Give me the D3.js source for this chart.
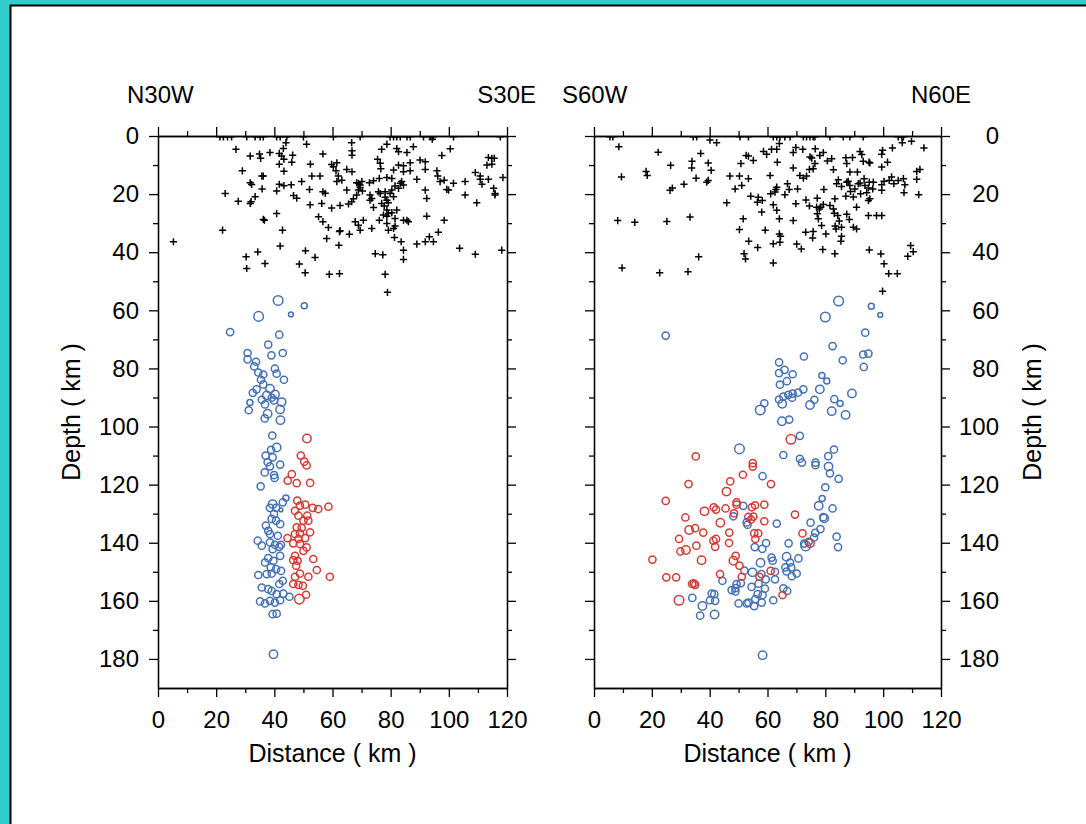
<!DOCTYPE html>
<html><head><meta charset="utf-8">
<script src="https://cdn.jsdelivr.net/npm/d3@7"></script>
<style>html,body{margin:0;padding:0;background:#33cccc;}svg{display:block;}</style>
</head><body>
<svg id="chart" width="1086" height="824"></svg>
<script>
// ---------- data (distance km, depth km [, magnitude]) ----------
const xTickValues = [0, 20, 40, 60, 80, 100, 120];
const yTickValues = [0, 20, 40, 60, 80, 100, 120, 140, 160, 180];
const panelTitlesLeft = ["N30W", "S30E"];
const panelTitlesRight = ["S60W", "N60E"];
const xAxisTitle = "Distance ( km )";
const yAxisTitle = "Depth ( km )";

const leftShallowTop = [21.3,22.5,23.9,25.3,30.5,33.4,35.1,36.2,40.8,42.0,44.3,50.0,60.3,69.5,79.8,81.0,82.1,83.3,85.6,86.7,91.3,93.6,94.7,101.6,117.7];
const leftCrosses = [
[26.8,4.6],[31.7,6.9],[34.9,6.2],[35.3,7.7],[38.5,5.7],[41.7,6.0],[42.5,6.9],[43.3,8.0],[43.1,4.3],[44.0,2.3],[46.3,6.6],[46.0,9.0],[51.1,2.8],[56.7,6.2],[66.6,2.3],[66.7,5.1],[66.7,6.6],[78.7,2.8],[76.9,4.6],[82.1,4.3],[82.7,5.4],[85.6,5.7],[87.8,3.7],[94.3,1.1],[97.6,6.7],[100.5,4.4],[113.6,7.4],[114.8,7.7],[113.1,10.0],[114.8,9.7],[115.6,7.7],
[29.0,12.0],[31.7,16.1],[32.2,16.7],[35.7,13.8],[36.2,13.8],[35.8,18.2],[41.7,9.7],[41.7,16.6],[43.3,12.1],[45.8,16.8],[49.4,15.7],[52.4,9.7],[52.9,13.8],[55.7,13.8],[59.7,9.8],[60.3,10.6],[61.5,9.2],[61.2,12.0],[62.0,13.8],[63.2,15.2],[61.5,15.7],[64.9,11.5],[66.7,12.3],[68.3,16.1],[68.9,16.3],[69.5,16.9],[70.1,15.7],[75.5,8.0],[76.4,9.4],[76.6,11.3],[72.7,16.1],[74.1,15.4],[76.1,14.6],[78.7,14.3],[80.4,14.6],[81.0,11.7],[82.7,10.0],[84.4,10.2],[84.4,12.3],[86.7,9.2],[86.7,12.0],[89.0,14.9],[90.1,8.3],[91.9,8.9],[91.9,11.5],[95.9,12.0],[96.2,13.8],[97.0,15.7],[98.4,15.2],[99.3,18.4],[99.9,18.6],[101.6,16.3],[105.6,15.7],[109.1,12.6],[110.8,13.8],[110.8,14.9],[111.4,16.6],[113.6,14.9],[118.6,14.3],[115.4,18.0],[115.9,19.8],
[23.1,19.8],[27.6,22.5],[31.7,23.2],[32.0,22.6],[33.4,20.9],[40.8,18.9],[43.3,17.1],[46.6,20.5],[47.7,21.4],[52.1,18.4],[52.3,23.7],[56.7,19.2],[57.5,19.7],[56.3,23.2],[59.7,24.8],[62.6,23.9],[64.9,18.6],[65.5,23.4],[66.6,22.6],[67.2,21.6],[68.3,20.3],[68.9,18.6],[69.5,17.7],[70.3,18.9],[72.9,20.3],[73.5,21.5],[72.9,22.1],[74.1,24.6],[75.8,19.2],[76.4,19.8],[76.9,23.2],[77.8,24.1],[78.1,21.1],[78.7,22.1],[78.7,25.5],[79.2,23.0],[79.8,19.8],[80.4,18.6],[81.0,20.9],[81.5,17.2],[82.7,18.0],[83.3,16.3],[83.8,15.7],[84.4,16.9],[79.2,26.7],[77.5,27.2],[78.7,27.6],[80.4,26.4],[82.1,25.5],[81.5,28.4],[78.1,19.2],[91.9,18.6],[92.4,21.5],[105.6,20.3],[109.6,23.0],[115.9,20.3],
[22.2,32.4],[36.2,28.7],[36.6,29.0],[40.8,26.7],[42.8,32.4],[42.0,37.9],[55.2,27.8],[56.7,29.5],[58.6,31.5],[58.0,35.3],[62.4,32.9],[62.6,32.6],[62.2,37.6],[65.8,33.8],[67.8,29.5],[68.9,30.7],[69.5,32.4],[70.6,29.0],[73.5,31.8],[76.1,29.0],[78.7,30.1],[79.2,32.4],[81.0,31.8],[81.5,31.0],[81.3,34.9],[83.6,36.4],[84.4,29.0],[85.6,29.0],[86.1,29.5],[89.0,37.2],[91.9,36.4],[93.3,34.7],[94.7,36.4],[96.4,33.1],[98.4,29.0],[92.4,27.6],[103.7,38.6],[118.2,39.3],[109.1,40.7],[84.4,39.3],[84.4,42.5],[74.7,40.5],[77.3,40.9],
[5.3,36.4],[30.3,41.6],[30.5,45.6],[34.3,39.9],[36.8,43.9],[48.6,44.1],[50.7,39.5],[50.6,47.1],[54.0,41.8],[58.9,47.6],[62.4,47.4],[78.1,47.6],[78.9,53.8]
];
const leftBlue = [
[41.3,56.6,4],[50.3,58.4,2.5],[34.6,62.1,4],[45.7,61.4,2],[24.8,67.5,3],[41.7,68.4,3],[37.9,71.8,3],[42.9,74.7,3],[30.8,74.7,3],[30.8,76.9,3],[39.0,75.5,3],[33.7,77.7,3],[33.1,79.3,3],[40.2,80.1,3],[40.8,81.8,3],[34.5,81.4,3],[36.2,82.1,3],[35.4,83.9,3],[43.3,83.9,3],[36.2,85.5,3],[33.9,87.2,3],[32.6,88.4,3],[38.5,87.0,3.5],[40.2,89.0,3.5],[37.4,89.3,3.5],[39.1,90.1,3],[35.7,90.8,3],[39.9,91.0,3],[42.5,91.6,3.5],[31.6,91.7,2.5],[36.8,92.4,3],[42.0,94.1,3.5],[31.2,94.4,3],[37.7,95.6,3.5],[36.7,97.2,3],[42.1,97.8,3.5],[39.3,103.1,3],[40.8,107.2,3.5],[38.9,108.0,3],[37.0,110.0,3],[39.4,110.6,3],[42.0,113.1,3],[37.7,112.3,3],[38.5,113.7,3],[36.7,115.8,3],[39.9,116.7,3],[40.1,117.7,3],[35.3,120.6,3],
[44.0,124.6,2.5],[42.9,126.1,3],[39.4,126.7,3.5],[40.6,128.0,3],[38.5,128.0,3],[42.3,128.7,1.5],[39.9,130.1,3],[39.1,131.8,3],[40.6,132.4,3],[42.0,133.6,3],[37.1,134.1,3],[37.9,135.9,3],[38.5,137.0,3],[41.2,137.6,3],[34.3,139.3,3],[35.7,141.0,3],[38.5,139.9,3],[40.2,140.7,3],[42.3,140.7,3],[41.7,141.4,3],[39.4,142.2,3],[42.0,144.5,3],[37.9,145.3,3],[36.8,146.8,3],[39.7,146.2,3],[38.8,148.5,3],[40.6,149.1,3],[34.5,151.1,3],[37.4,150.8,3],[39.1,150.6,3],[42.3,149.7,3],[42.9,153.1,3],[41.7,154.2,3],[35.7,155.4,3],[37.9,156.0,3],[39.1,156.6,3],[40.8,157.7,3],[43.1,157.5,3],[45.2,158.6,3],[35.1,160.2,3],[36.8,160.9,3],[38.5,160.0,3],[40.2,160.6,3],[42.0,159.8,3],[39.4,164.6,3],[40.8,164.4,3],[39.7,178.4,3.5]
];
const leftRed = [
[51.2,104.1,3.5],[49.1,110.0,3],[50.3,112.1,3],[51.1,113.4,3],[46.0,116.4,3],[44.6,118.6,3],[47.7,119.5,3],[52.3,119.4,3],
[47.9,125.5,3],[48.8,127.2,3],[50.6,126.9,3],[53.2,128.0,3],[55.1,128.4,3],[58.6,127.6,3],[47.1,129.0,3],[48.3,130.7,3],[51.3,130.7,3],[50.0,132.4,3],[51.7,132.4,3],[47.7,134.7,3],[49.4,134.9,3],[52.3,136.4,3],[48.8,136.8,3],[47.1,137.0,3],[44.5,138.4,3],[48.3,138.7,3],[50.6,138.4,3],[46.5,140.2,3],[48.8,140.4,3],[51.1,141.6,3],[50.0,142.8,3],[47.1,144.5,3],[46.5,146.0,3],[48.0,146.2,3],[53.4,145.6,3],[47.5,147.9,3],[54.6,149.4,3],[48.8,150.6,3],[47.1,151.7,3],[51.7,151.7,3],[59.1,151.7,3],[46.5,154.2,3],[48.3,154.5,3],[49.8,154.8,3],[50.9,157.9,3],[48.6,159.4,4]
];

const rightShallowTop = [5.5,6.5,34.3,35.5,50.5,53.4,62.0,63.2,64.3,66.0,67.8,72.4,73.5,74.7,75.8,76.4,81.6,86.2,88.5,93.1,105.2,106.4,107.0];
const rightCrosses = [
[8.6,3.7],[22.2,5.6],[26.5,10.1],[9.5,14.1],[18.0,12.2],[18.4,13.6],[26.3,18.7],[27.1,17.9],[31.1,16.6],[33.9,8.7],[33.8,11.0],[35.3,14.5],[36.9,6.0],[39.5,9.3],[40.5,11.8],[39.0,15.9],[39.5,15.3],[40.1,1.4],[42.4,2.3],[47.0,13.8],[48.8,18.2],[50.3,13.8],[51.1,17.0],[50.8,9.5],[52.6,6.7],[53.4,6.9],[53.4,14.7],[55.1,8.4],[54.2,20.7],[56.8,21.1],[56.5,22.8],[58.2,22.2],[45.9,23.0],[51.6,28.5],[50.3,32.2],[51.9,40.5],[52.4,42.3],[53.5,36.2],[56.6,38.4],[58.0,26.2],[59.2,32.4],[62.0,43.7],[62.0,37.1],[64.1,33.7],[64.3,36.6],[64.5,34.5],[64.1,28.5],[63.2,25.6],[62.0,23.7],[60.9,13.6],[61.1,19.9],[62.6,19.3],[63.2,17.6],[62.9,18.4],[66.0,20.2],[66.9,16.4],[67.5,18.4],[68.9,11.0],[69.8,23.3],[71.2,13.6],[70.4,18.2],[72.4,14.5],[71.7,38.9],[70.1,37.2],[73.3,22.0],[74.5,24.1],[73.5,13.8],[74.5,11.5],[75.8,11.3],[76.4,9.5],[75.3,7.6],[74.7,7.2],[78.1,6.7],[79.3,5.7],[80.7,8.6],[82.2,7.8],[82.8,11.6],[76.5,4.4],[72.2,4.6],[69.8,4.0],[68.9,5.7],[63.2,4.6],[64.1,2.6],[61.4,4.6],[58.6,5.3],[59.7,6.3],[63.4,9.0],[68.9,29.1],[73.2,33.1],[75.8,32.9],[75.6,35.1],[77.2,21.4],[77.0,24.5],[77.9,25.1],[77.2,26.8],[77.6,28.5],[78.4,24.5],[78.7,30.8],[79.3,23.6],[79.5,18.4],[79.1,39.1],[80.2,33.7],[82.8,25.1],[81.6,23.9],[83.1,26.6],[83.7,32.0],[83.4,31.0],[85.6,31.4],[85.6,34.5],[85.4,36.2],[84.3,27.4],[84.8,29.3],[83.3,40.5],[83.3,21.6],[83.9,16.4],[84.5,15.1],[85.6,17.4],[87.4,15.9],[87.1,20.7],[87.9,15.6],[88.5,17.0],[88.7,19.1],[89.7,21.0],[90.2,18.2],[90.8,24.5],[91.4,16.4],[92.0,16.2],[92.2,19.9],[93.4,14.7],[93.7,17.0],[94.3,19.5],[95.2,15.9],[95.4,21.6],[94.9,22.2],[94.9,17.9],[96.4,18.2],[96.6,15.9],[99.5,18.7],[99.5,16.8],[100.3,15.6],[102.1,15.3],[102.9,14.1],[103.7,16.4],[105.2,15.3],[107.0,14.7],[107.5,16.8],[107.2,19.5],[111.6,12.2],[112.7,11.5],[112.3,20.2],[111.6,14.9],[109.8,1.8],[106.6,2.3],[103.2,4.1],[99.8,4.9],[99.5,6.3],[101.5,9.0],[99.5,10.7],[114.1,4.1],[92.6,6.4],[95.4,9.3],[93.1,8.7],[89.4,7.4],[87.1,7.5],[87.4,9.5],[88.5,12.4],[91.1,12.4],[92.0,5.3],[95.1,9.0],[97.7,27.4],[99.5,27.4],[94.9,27.4],[89.7,31.4],[88.3,28.7],[87.4,26.9],[90.8,32.0],[95.2,39.2],[99.2,40.6],[100.3,44.0],[101.9,47.4],[104.9,47.4],[99.8,53.4],[109.5,37.7],[110.4,39.8],[108.5,41.4],[8.2,29.1],[14.1,29.7],[25.2,29.4],[33.2,27.9],[36.2,41.6],[9.7,45.4],[22.7,47.1],[32.5,46.7]
];
const rightBlue = [
[84.6,56.8,4],[95.9,58.6,2.5],[80.0,62.3,4],[99.0,61.6,2],[24.8,68.7,3],[93.8,67.7,3],[82.5,72.3,3],[72.6,75.9,3],[86.0,77.2,3],[93.1,75.2,3],[94.9,74.9,3],[93.3,79.5,3],[64.0,77.9,3],[65.9,80.5,3],[64.0,81.6,3],[68.7,82.0,3],[78.8,82.4,2.5],[80.5,84.3,2.5],[66.7,84.4,3],[64.3,85.6,3],[78.1,87.2,3.5],[72.4,87.2,3],[70.6,88.3,3],[68.7,88.7,3],[67.2,89.1,3],[65.5,89.7,3],[64.0,90.7,3],[65.1,92.2,3.5],[68.5,90.1,3],[58.9,92.0,3],[57.5,94.3,4],[76.2,90.8,3],[74.7,92.6,3.5],[83.1,90.6,3],[85.1,92.1,2.5],[89.2,88.6,3.5],[82.2,94.7,3.5],[87.0,96.0,3.5],[65.0,98.2,3.5],[67.5,97.6,3],[71.2,103.2,3],[50.3,107.7,4],
[65.5,109.8,3],[71.2,111.1,3],[71.9,112.4,3],[76.6,112.4,3],[76.6,113.3,3],[81.0,110.2,3],[83.0,107.9,3],[81.1,113.8,3.5],[81.6,116.1,3],[84.6,118.0,3],[58.3,117.1,3],[80.0,120.9,3],[78.9,124.8,2.5],[77.7,127.3,3.5],[82.5,128.2,3],[79.3,131.2,3],[79.6,131.6,3.5],[78.3,135.3,3],[74.9,133.1,3],[76.5,136.6,3],[76.1,138.2,3],[83.9,137.9,3],[84.4,141.5,3],[63.2,133.4,3],[72.7,140.3,3],[74.2,139.7,3],[73.2,141.1,4],[67.3,140.2,3],[70.7,145.4,3],[66.6,144.8,3.5],[67.8,146.8,3],[66.2,148.5,3],[68.2,148.5,3],[70.1,150.6,3],[68.4,151.5,3],[66.6,149.9,3],[62.6,152.6,3],[61.4,145.1,3],[61.8,146.2,3],[59.5,140.1,3],[58.2,142.1,3],[55.6,141.5,3],[57.6,146.9,3.5],[54.8,150.2,3.5],[57.9,150.8,3],[59.4,152.6,3],[62.6,150.0,3],[65.5,155.7,3],[66.8,156.6,3],[62.0,159.8,3],[59.1,155.8,3],[56.9,154.1,3],[54.5,155.2,3],[58.3,158.0,3],[56.6,157.7,3],[55.8,159.4,3],[58.0,160.6,3],[55.4,161.8,3],[53.4,160.6,3],[52.8,160.9,3],[50.0,160.9,3],[49.3,154.2,3],[48.9,155.6,3],[47.6,156.3,3],[48.9,156.8,3],[44.4,153.1,3],[52.0,149.6,3],[50.8,153.9,3],[40.7,157.5,3],[41.6,157.7,3],[41.9,160.0,3],[40.1,159.8,3],[37.5,161.8,3.5],[34.0,159.0,3],[36.7,165.1,3],[41.7,164.7,3.5],[58.3,178.7,3.5],[51.6,127.3,3],[52.8,133.0,3],[53.1,133.8,3],[48.2,130.9,3]
];
const rightRed = [
[68.1,104.4,4],[35.2,110.3,3],[54.9,112.6,3],[54.9,113.8,3],[51.5,116.6,3],[47.1,118.9,3],[61.2,119.8,3],[32.7,119.8,3],[45.8,122.4,3.5],[24.8,125.6,3],[49.3,126.1,3],[49.3,126.9,3],[55.7,127.1,3],[58.9,126.9,3],[54.6,127.8,3],[41.4,127.8,3],[42.2,128.6,3],[45.5,128.2,3],[38.2,129.2,3.5],[48.4,129.9,3],[31.6,131.3,3],[53.4,131.1,3],[55.1,131.0,3],[54.3,132.0,3],[58.9,132.6,3],[43.7,133.1,3.5],[35.0,135.0,3],[32.9,135.6,3.5],[37.8,136.5,3],[46.8,136.5,3],[55.4,136.8,3],[56.8,136.8,3],[55.8,138.7,3],[42.2,138.7,3],[41.3,139.3,3],[29.4,138.7,3],[46.7,140.1,3],[35.4,141.0,3],[41.9,141.4,3],[29.9,143.0,3],[31.8,142.5,3.5],[69.5,130.3,3],[72.1,136.8,3],[74.7,140.2,3.5],[20.2,145.8,3],[37.2,146.0,3.5],[48.2,146.2,3.5],[49.0,144.5,3],[50.3,147.9,3],[43.6,150.8,3],[51.1,151.7,3],[57.2,151.7,3],[61.1,149.7,3],[25.0,151.9,3],[28.4,151.9,3],[33.9,154.2,3],[35.0,154.5,3],[34.5,154.0,3],[29.4,159.8,4],[65.2,158.0,3]
];

// ---------- drawing ----------
const FONT = "'Liberation Sans', Arial, Helvetica, sans-serif";
const BLUE = "#4470b4", RED = "#d33a33";
const svg = d3.select("#chart");
svg.append("rect").attr("width",1086).attr("height",824).attr("fill","#33cccc");
svg.append("rect").attr("x",10.5).attr("y",5.5).attr("width",1090).attr("height",830)
   .attr("fill","#fff").attr("stroke","#000").attr("stroke-width",2);

const y = d3.scaleLinear().domain([0,190]).range([136,688]);
const rScale = d3.scaleLinear().domain([2,4]).range([2.4,4.8]);
const minorX = d3.range(10,120,20), minorY = d3.range(10,180,20);

const panels = [
  {x0:158, x1:507, labels:"left", titles:panelTitlesLeft, top:leftShallowTop, crosses:leftCrosses, blue:leftBlue, red:leftRed, id:"L"},
  {x0:594, x1:941, labels:"right", titles:panelTitlesRight, top:rightShallowTop, crosses:rightCrosses, blue:rightBlue, red:rightRed, id:"R"}
];

panels.forEach(p => {
  const x = d3.scaleLinear().domain([0,120]).range([p.x0,p.x1]);
  const g = svg.append("g");
  svg.append("clipPath").attr("id","clip"+p.id).append("rect")
     .attr("x",p.x0).attr("y",y(0)).attr("width",p.x1-p.x0).attr("height",y(190)-y(0));
  const plot = g.append("g").attr("clip-path","url(#clip"+p.id+")");

  const crossPath = "M-3.6,0H3.6M0,-3.6V3.6";
  const allCrosses = p.top.map(v => [v,0.3]).concat(p.crosses);
  plot.selectAll("path.cross").data(allCrosses).join("path").attr("class","cross")
     .attr("d",crossPath).attr("transform",d=>`translate(${x(d[0])},${y(d[1])})`)
     .attr("fill","none").attr("stroke","#000").attr("stroke-width",1.5);
  plot.selectAll("circle.b").data(p.blue).join("circle").attr("class","b")
     .attr("cx",d=>x(d[0])).attr("cy",d=>y(d[1])).attr("r",d=>rScale(d[2]))
     .attr("fill","none").attr("stroke",BLUE).attr("stroke-width",1.5);
  plot.selectAll("circle.r").data(p.red).join("circle").attr("class","r")
     .attr("cx",d=>x(d[0])).attr("cy",d=>y(d[1])).attr("r",d=>rScale(d[2]))
     .attr("fill","none").attr("stroke",RED).attr("stroke-width",1.5);

  const styleAxis = sel => {
    sel.attr("font-family",FONT).attr("font-size",24);
    sel.selectAll("path,line").attr("stroke","#000").attr("stroke-width",1.3);
  };
  const axes = [
    {a:d3.axisTop(x), t:`translate(0,${y(0)})`, v:xTickValues, mv:minorX, lab:false},
    {a:d3.axisBottom(x), t:`translate(0,${y(190)})`, v:xTickValues, mv:minorX, lab:true},
    {a:d3.axisLeft(y), t:`translate(${p.x0},0)`, v:yTickValues, mv:minorY, lab:p.labels==="left"},
    {a:d3.axisRight(y), t:`translate(${p.x1},0)`, v:yTickValues, mv:minorY, lab:p.labels==="right"}
  ];
  axes.forEach((A,i) => {
    const maj = g.append("g").attr("transform",A.t)
      .call(A.a.tickValues(A.v).tickSize(9).tickSizeOuter(0).tickPadding(i===1?14:10)
             .tickFormat(A.lab ? d3.format("d") : ""));
    styleAxis(maj);
    if (i===3 && A.lab) maj.selectAll("text").attr("text-anchor","end").attr("x",58);
    const scale = A.a.scale();
    const mk = (i===0?d3.axisTop:i===1?d3.axisBottom:i===2?d3.axisLeft:d3.axisRight)(scale)
       .tickValues(A.mv).tickSize(5).tickSizeOuter(0).tickFormat("");
    const mn = g.append("g").attr("transform",A.t).call(mk);
    styleAxis(mn);
  });

  g.append("text").attr("x",p.id==="L"?127:562).attr("y",103).attr("font-family",FONT).attr("font-size",24)
    .text(p.titles[0]);
  g.append("text").attr("x",p.id==="L"?536:971).attr("y",103).attr("text-anchor","end")
    .attr("font-family",FONT).attr("font-size",24).text(p.titles[1]);
  g.append("text").attr("x",(p.x0+p.x1)/2).attr("y",762).attr("text-anchor","middle")
    .attr("font-family",FONT).attr("font-size",25).text(xAxisTitle);
  const yx = p.id==="L" ? 80 : 1041;
  g.append("text").attr("transform",`translate(${yx},${(y(0)+y(190))/2}) rotate(-90)`)
    .attr("text-anchor","middle").attr("font-family",FONT).attr("font-size",25).text(yAxisTitle);
});
</script>
</body></html>
